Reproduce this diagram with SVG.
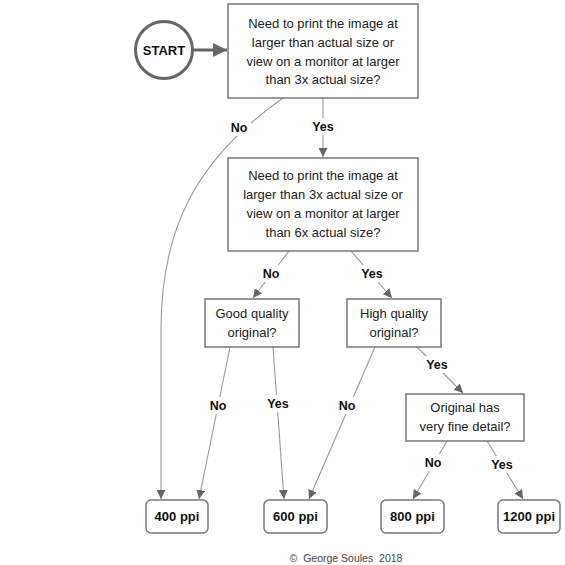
<svg xmlns="http://www.w3.org/2000/svg" width="565" height="565" viewBox="0 0 565 565">
<style>
.bg{fill:#ffffff}
.box{fill:#ffffff;stroke:#777777;stroke-width:1.5}
.t{font-family:"Liberation Sans",Arial,sans-serif;font-size:13px;fill:#222222;text-anchor:middle;dominant-baseline:central}
.b{font-family:"Liberation Sans",Arial,sans-serif;font-size:13px;font-weight:bold;fill:#111111;text-anchor:middle;dominant-baseline:central}
.lbl{font-family:"Liberation Sans",Arial,sans-serif;font-size:12.5px;font-weight:bold;fill:#111111;text-anchor:middle;dominant-baseline:central}
.c{fill:none;stroke:#999999;stroke-width:1.1}
.foot{font-family:"Liberation Sans",Arial,sans-serif;font-size:10.5px;fill:#444444;text-anchor:middle;dominant-baseline:central;white-space:pre}
</style>
<defs>
<marker id="ah" viewBox="0 0 10 10" refX="10" refY="5" markerWidth="9" markerHeight="9" markerUnits="userSpaceOnUse" orient="auto">
<path d="M0,0 L10,5 L0,10 z" fill="#666666"/>
</marker>
<marker id="ahb" viewBox="0 0 10 10" refX="10" refY="5" markerWidth="14" markerHeight="14" markerUnits="userSpaceOnUse" orient="auto">
<path d="M0,0 L10,5 L0,10 z" fill="#666666"/>
</marker>
</defs>
<rect class="bg" x="0" y="0" width="565" height="565"/>

<g id="connectors">
<line x1="193" y1="50" x2="227" y2="50" stroke="#666666" stroke-width="3" marker-end="url(#ahb)"/>
<path class="c" d="M283,98 C195,160 161,230 161,330 L161,499" marker-end="url(#ah)"/>
<line class="c" x1="323" y1="98" x2="323" y2="157" marker-end="url(#ah)"/>
<line class="c" x1="289" y1="251" x2="253" y2="298" marker-end="url(#ah)"/>
<line class="c" x1="351" y1="251" x2="392" y2="298" marker-end="url(#ah)"/>
<line class="c" x1="230" y1="347" x2="199" y2="499" marker-end="url(#ah)"/>
<line class="c" x1="273" y1="347" x2="284" y2="499" marker-end="url(#ah)"/>
<line class="c" x1="375" y1="347" x2="309" y2="499" marker-end="url(#ah)"/>
<line class="c" x1="417" y1="347" x2="463" y2="393" marker-end="url(#ah)"/>
<line class="c" x1="447" y1="441" x2="413" y2="499" marker-end="url(#ah)"/>
<line class="c" x1="487" y1="441" x2="523" y2="499" marker-end="url(#ah)"/>
<!-- label backgrounds -->
<rect x="227" y="119" width="24" height="17" fill="#ffffff"/>
<rect x="310" y="118" width="26" height="17" fill="#ffffff"/>
<rect x="259" y="265" width="24" height="17" fill="#ffffff"/>
<rect x="359" y="265" width="26" height="17" fill="#ffffff"/>
<rect x="206" y="397" width="24" height="17" fill="#ffffff"/>
<rect x="265" y="395" width="26" height="17" fill="#ffffff"/>
<rect x="335" y="397" width="24" height="17" fill="#ffffff"/>
<rect x="424" y="356" width="26" height="17" fill="#ffffff"/>
<rect x="421" y="454" width="24" height="17" fill="#ffffff"/>
<rect x="489" y="456" width="26" height="17" fill="#ffffff"/>
<text class="lbl" x="239" y="128">No</text>
<text class="lbl" x="323" y="127">Yes</text>
<text class="lbl" x="271" y="274">No</text>
<text class="lbl" x="372" y="274">Yes</text>
<text class="lbl" x="218" y="406">No</text>
<text class="lbl" x="278" y="404">Yes</text>
<text class="lbl" x="347" y="406">No</text>
<text class="lbl" x="437" y="365">Yes</text>
<text class="lbl" x="433" y="463">No</text>
<text class="lbl" x="502" y="465">Yes</text>
</g>

<g id="start">
<circle cx="164" cy="50" r="28.5" fill="#ffffff" stroke="#666666" stroke-width="3"/>
<text class="b" x="164" y="50">START</text>
</g>

<g id="q1">
<rect class="box" x="228" y="4" width="190" height="94"/>
<text class="t" x="323" y="23">Need to print the image at</text>
<text class="t" x="323" y="42">larger than actual size or</text>
<text class="t" x="323" y="61">view on a monitor at larger</text>
<text class="t" x="323" y="79">than 3x actual size?</text>
</g>

<g id="q2">
<rect class="box" x="228" y="158" width="190" height="93"/>
<text class="t" x="323" y="175">Need to print the image at</text>
<text class="t" x="323" y="194">larger than 3x actual size or</text>
<text class="t" x="323" y="213">view on a monitor at larger</text>
<text class="t" x="323" y="232">than 6x actual size?</text>
</g>

<g id="good">
<rect class="box" x="205" y="299" width="94" height="48"/>
<text class="t" x="252" y="313">Good quality</text>
<text class="t" x="252" y="332">original?</text>
</g>

<g id="high">
<rect class="box" x="347" y="299" width="94" height="48"/>
<text class="t" x="394" y="313">High quality</text>
<text class="t" x="394" y="332">original?</text>
</g>

<g id="detail">
<rect class="box" x="406" y="394" width="118" height="47"/>
<text class="t" x="465" y="407">Original has</text>
<text class="t" x="465" y="426">very fine detail?</text>
</g>

<g id="p400">
<rect class="box" x="146" y="500" width="62" height="33" rx="5"/>
<text class="b" x="177" y="516">400 ppi</text>
</g>
<g id="p600">
<rect class="box" x="264" y="500" width="63" height="33" rx="5"/>
<text class="b" x="295.5" y="516">600 ppi</text>
</g>
<g id="p800">
<rect class="box" x="381" y="500" width="63" height="33" rx="5"/>
<text class="b" x="412.5" y="516">800 ppi</text>
</g>
<g id="p1200">
<rect class="box" x="498" y="500" width="62" height="33" rx="5"/>
<text class="b" x="529" y="516">1200 ppi</text>
</g>

<text class="foot" x="346" y="558">©  George Soules  2018</text>
</svg>
